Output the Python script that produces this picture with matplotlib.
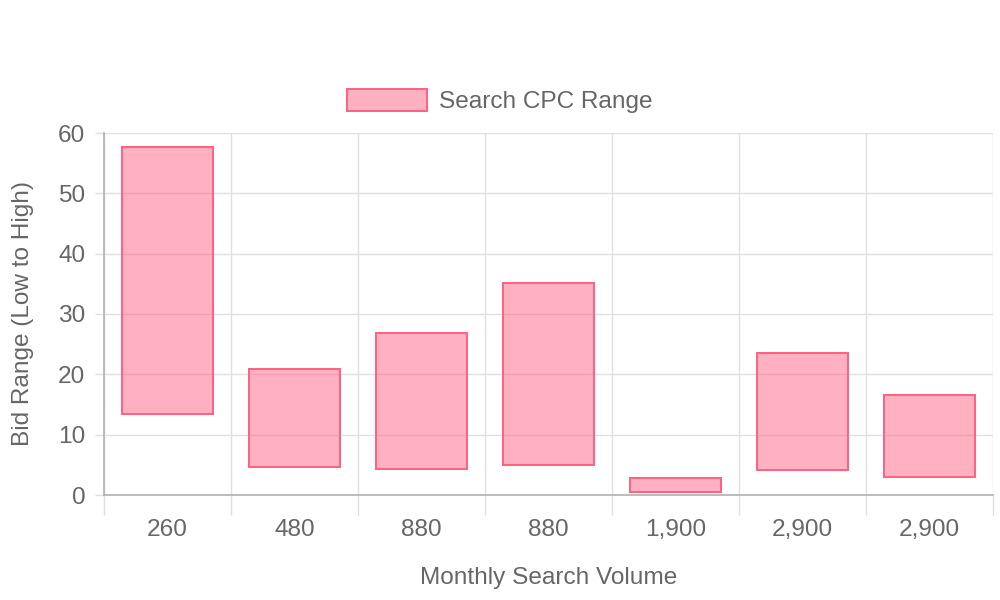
import matplotlib
matplotlib.use("Agg")
import matplotlib.pyplot as plt
import numpy as np

categories = ['260', '480', '880', '880', '1,900', '2,900', '2,900']
low = [13.4, 4.6, 4.3, 5.0, 0.5, 4.1, 3.0]
high = [57.7, 20.9, 26.8, 35.1, 2.9, 23.6, 16.5]
series_name = 'Search CPC Range'

plt.rcParams['font.family'] = ['Liberation Sans', 'DejaVu Sans']
TXT = '#666666'
GRID = '#e0e0e0'
AXC = '#b0b0b0'
FS = 17.6

fig = plt.figure(figsize=(10, 6), dpi=100)
ax = fig.add_axes([104/1000, 1-495/600, (993-104)/1000, (495-133)/600])

x = np.arange(len(categories))
heights = np.array(high) - np.array(low)
ax.bar(x, heights, bottom=low, width=0.72, color=(1, 99/255, 132/255, 0.5),
       edgecolor='#ff6384', linewidth=1.44, zorder=3, label=series_name)

ax.set_xlim(-0.5, len(categories) - 0.5)
ax.set_ylim(0, 60)
ax.set_yticks(np.arange(0, 61, 10))
ax.set_xticks(x)
ax.set_xticklabels(categories)
ax.set_xticks(np.arange(-0.5, len(categories), 1), minor=True)

ax.tick_params(axis='x', which='major', length=0, pad=17.5, labelsize=FS, labelcolor=TXT)
ax.tick_params(axis='x', which='minor', length=14.4, width=1, color=GRID, direction='out')
ax.tick_params(axis='y', which='major', length=6.5, width=1, color=GRID, pad=7, labelsize=FS, labelcolor=TXT)

mt = ax.xaxis.get_minor_ticks()
mt[0].tick1line.set_color(AXC)

ax.grid(True, axis='y', which='major', color=GRID, linewidth=1, zorder=0)
ax.grid(True, axis='x', which='minor', color=GRID, linewidth=1, zorder=0)
ax.set_axisbelow(True)

for s in ['top', 'right']:
    ax.spines[s].set_visible(False)
for s in ['left', 'bottom']:
    ax.spines[s].set_color(AXC)
    ax.spines[s].set_linewidth(1.2)
    ax.spines[s].set_zorder(4)

ax.set_xlabel('Monthly Search Volume', fontsize=FS, color=TXT)
ax.set_ylabel('Bid Range (Low to High)', fontsize=FS, color=TXT)
ax.xaxis.set_label_coords(0.5, -(578-495)/362, transform=ax.transAxes)
ax.yaxis.set_label_coords(-(104-23)/889, 0.5, transform=ax.transAxes)
ax.xaxis.label.set_va('center')
ax.yaxis.label.set_va('center')

fig.legend(loc='center', bbox_to_anchor=(0.5, 1-101/600), frameon=False,
           fontsize=FS, labelcolor=TXT, handlelength=3.28, handleheight=1.0,
           handletextpad=0.5, borderpad=0)

fig.savefig('out.png', dpi=100, facecolor='white')
